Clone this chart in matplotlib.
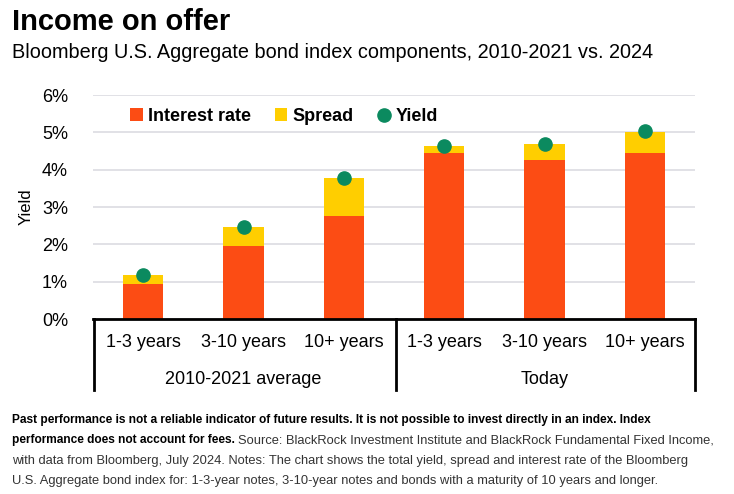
import matplotlib.pyplot as plt
import numpy as np

plt.rcParams['font.family'] = ['Liberation Sans', 'DejaVu Sans']

# data
periods = ['1-3 years', '3-10 years', '10+ years', '1-3 years', '3-10 years', '10+ years']
groups = ['2010-2021 average', 'Today']
interest = [0.95, 1.95, 2.75, 4.45, 4.26, 4.45]
spread = [0.23, 0.51, 1.02, 0.19, 0.42, 0.57]
yld = [1.18, 2.46, 3.78, 4.64, 4.68, 5.03]
yticks = [0, 1, 2, 3, 4, 5, 6]

c_int = '#FC4C14'
c_spr = '#FFCE00'
c_yld = '#0B8A5F'

fig = plt.figure(figsize=(7.34, 4.94), dpi=100)
ax = fig.add_axes([93 / 734, 1 - 319 / 494, 602 / 734, 224 / 494])

x = np.arange(len(periods))
b1 = ax.bar(x, interest, width=0.4, color=c_int, zorder=2, label='Interest rate')
b2 = ax.bar(x, spread, width=0.4, bottom=interest, color=c_spr, zorder=2, label='Spread')
l1, = ax.plot(x, yld, 'o', color=c_yld, markersize=9.5, zorder=3, label='Yield')

ax.set_xlim(-0.5, 5.5)
ax.set_ylim(0, 6)
ax.set_yticks(yticks)
ax.set_yticklabels([f'{t}%' for t in yticks], fontsize=13)
ax.tick_params(axis='y', length=0, pad=18)
ax.set_xticks([])
ax.grid(axis='y', color='#DCDCE2', linewidth=1.2, zorder=0)
for s in ['top', 'right', 'left', 'bottom']:
    ax.spines[s].set_visible(False)
ax.set_ylabel('Yield', fontsize=12, labelpad=6)

# category table under the axis
tr = ax.get_xaxis_transform()
lw = 2
ax.plot([-0.5, 5.5], [0, 0], color='black', lw=lw, transform=tr, clip_on=False, zorder=4)
for xv in [-0.49, 2.52, 5.5]:
    ax.plot([xv, xv], [0, -0.318], color='black', lw=lw, transform=tr, clip_on=False)
for i, p in enumerate(periods):
    ax.text(i, -0.107, p, transform=tr, ha='center', va='center', fontsize=13)
ax.text(1, -0.268, groups[0], transform=tr, ha='center', va='center', fontsize=13)
ax.text(4, -0.268, groups[1], transform=tr, ha='center', va='center', fontsize=13)

ax.legend([b1, b2, l1], ['Interest rate', 'Spread', 'Yield'],
          loc='upper left', bbox_to_anchor=(0.05, 0.975), ncol=3, frameon=False,
          prop={'weight': 'bold', 'size': 13}, handlelength=0.7, handleheight=0.7,
          handletextpad=0.3, columnspacing=1.3, borderaxespad=0)

fig.text(12 / 734, 1 - 22 / 494, 'Income on offer', fontsize=21, fontweight='bold', va='center')
fig.text(12 / 734, 1 - 53 / 494, 'Bloomberg U.S. Aggregate bond index components, 2010-2021 vs. 2024',
         fontsize=14.3, va='center')


def fit_text(xpx, ypx, s, right_px, **kw):
    # shrink the font until the line ends where it does in the chart
    t = fig.text(xpx / 734, 1 - ypx / 494, s, fontsize=10, va='center', **kw)
    fig.canvas.draw()
    w = t.get_window_extent().width
    t.set_fontsize(10 * (right_px - xpx) / w)
    return t


foot_bold = ['Past performance is not a reliable indicator of future results. It is not possible to invest directly in an index. Index',
             'performance does not account for fees.']
foot_reg = ['Source: BlackRock Investment Institute and BlackRock Fundamental Fixed Income,',
            'with data from Bloomberg, July 2024. Notes: The chart shows the total yield, spread and interest rate of the Bloomberg',
            'U.S. Aggregate bond index for: 1-3-year notes, 3-10-year notes and bonds with a maturity of 10 years and longer.']

t0 = fit_text(12, 420, foot_bold[0], 652, fontweight='bold')
fb = t0.get_fontsize()
t1 = fig.text(12 / 734, 1 - 440 / 494, foot_bold[1], fontsize=fb, fontweight='bold', va='center')
t3 = fit_text(12, 461, foot_reg[1], 692, color='#333333')
fr = t3.get_fontsize()
fig.canvas.draw()
bb = t1.get_window_extent()
fig.text(bb.x1 / 734 + 0.004, 1 - 440 / 494, foot_reg[0], fontsize=fr, color='#333333', va='center')
fig.text(12 / 734, 1 - 481 / 494, foot_reg[2], fontsize=fr, color='#333333', va='center')

fig.savefig('out.png', dpi=100)
